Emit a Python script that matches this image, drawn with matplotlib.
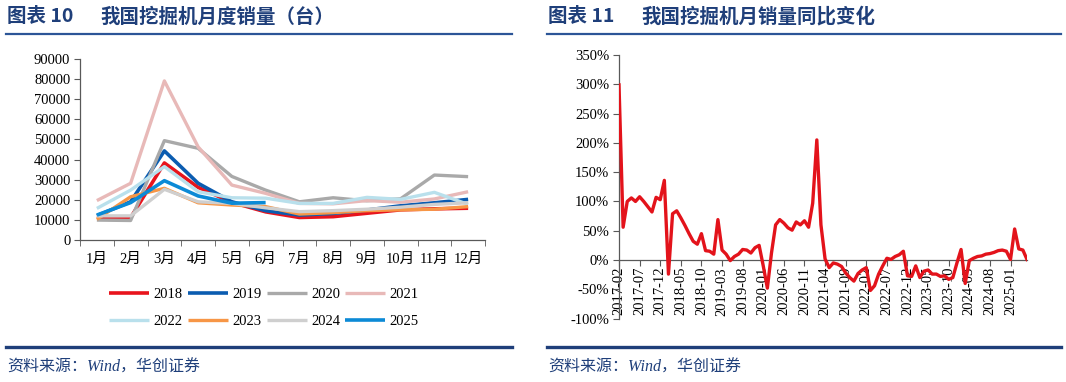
import matplotlib
matplotlib.use("Agg")
import matplotlib.pyplot as plt
from matplotlib.lines import Line2D
import pandas as pd

# ========= DATA =========
MONTHS = ["1月", "2月", "3月", "4月", "5月", "6月", "7月", "8月", "9月", "10月", "11月", "12月"]
YEARS = ["2018", "2019", "2020", "2021", "2022", "2023", "2024", "2025"]

sales_2018 = [11100, 11100, 38300, 26200, 18700, 14000, 11200, 11600, 13300, 15000, 15500, 15800]
sales_2019 = [12100, 19000, 44300, 28200, 19000, 14600, 12400, 13200, 14900, 17000, 18500, 20200]
sales_2020 = [9900, 9700, 49400, 45600, 31600, 24800, 19000, 21000, 19500, 20500, 32300, 31500]
sales_2021 = [19600, 28200, 79100, 46300, 27300, 23200, 18200, 18000, 19600, 18800, 20400, 24000]
sales_2022 = [15700, 24800, 36500, 24000, 21000, 20800, 18200, 18200, 21200, 20200, 23700, 17700]
sales_2023 = [10300, 21500, 25700, 18500, 17400, 16600, 12900, 13600, 14600, 15000, 15300, 16600]
sales_2024 = [12000, 12000, 25200, 19000, 18200, 16000, 14100, 14600, 15300, 16300, 17700, 18500]
sales_2025 = [12400, 18600, 29500, 21900, 18300, 18600]

yoy_pct = [299, 56, 100, 106, 100, 108, 100, 91, 82, 107, 103, 136,
           -24, 79, 84, 72, 59, 45, 32, 27, 45, 16, 15, 10,
           69, 17, 10, -1, 6, 10, 18, 17, 12, 21, 25, -10,
           -48, 12, 60, 69, 63, 55, 51, 65, 60, 67, 56, 97,
           205, 60, 2, -13, -5, -7, -11, -22, -30, -36, -23, -17,
           -13, -52, -44, -24, -10, 3, 1, 6, 9, 15, -27, -28,
           -10, -30, -19, -17, -24, -24, -28, -27, -33, -30, -5, 18,
           -40, -1, 3, 6, 7, 10, 11, 13, 16, 17, 15, 1,
           53, 19, 17, 1]
YOY_START = "2017-02"

# ========= STYLE =========
COLORS = ["#e8141c", "#0b5cb0", "#a9a9a9", "#e8b9b8", "#b9e0ec",
          "#f79646", "#cfcfcf", "#0c8ad6"]
NAVY = "#1f3f7a"

plt.rcParams["font.family"] = ["Liberation Serif", "Noto Sans CJK SC"]
plt.rcParams["font.size"] = 10.5
plt.rcParams["axes.linewidth"] = 0.9
plt.rcParams["axes.edgecolor"] = "#595959"


def main():
    fig = plt.figure(figsize=(10.66, 3.82), dpi=100)

    # --- left: monthly sales ---
    ax1 = fig.add_axes([80 / 1066, 1 - 240 / 382, 405 / 1066, 181 / 382])
    all_sales = [sales_2018, sales_2019, sales_2020, sales_2021,
                 sales_2022, sales_2023, sales_2024, sales_2025]
    handles = []
    for year, vals, col in zip(YEARS, all_sales, COLORS):
        lw = 2.6 if year in ("2018", "2019", "2025") else 2.4
        h, = ax1.plot(range(len(vals)), vals, color=col, lw=lw, label=year,
                      solid_capstyle="butt")
        handles.append(h)
    ax1.set_xlim(-0.5, 11.5)
    ax1.set_ylim(0, 90000)
    ax1.set_yticks(range(0, 90001, 10000))
    ax1.set_xticks(range(12))
    ax1.set_xticklabels(MONTHS)
    ax1.set_xticks([i - 0.5 for i in range(13)], minor=True)
    ax1.tick_params(axis="x", which="major", length=0, pad=9)
    ax1.tick_params(axis="x", which="minor", length=4, color="#595959")
    ax1.tick_params(axis="y", length=4, color="#595959", pad=3)
    for s in ("top", "right"):
        ax1.spines[s].set_visible(False)

    # legend filled row by row (matplotlib fills by column)
    order = [0, 4, 1, 5, 2, 6, 3, 7]
    fig.legend([handles[i] for i in order], [YEARS[i] for i in order],
               loc="center", bbox_to_anchor=(264 / 1066, 1 - 308 / 382),
               ncol=4, frameon=False, handlelength=2.75, handletextpad=0.3,
               columnspacing=0.35, labelspacing=0.95, fontsize=10.5)

    # --- right: YoY ---
    ax2 = fig.add_axes([619 / 1066, 1 - 318.6 / 382, 408 / 1066, 263.6 / 382])
    ax2.spines["bottom"].set_position(("data", 0))
    for s in ("top", "right"):
        ax2.spines[s].set_visible(False)
    labels = pd.date_range(YOY_START, periods=len(yoy_pct), freq="MS").strftime("%Y-%m")
    ax2.plot(range(len(yoy_pct)), yoy_pct, color="#e3131b", lw=2.4, zorder=3)
    ax2.set_xlim(0, len(yoy_pct) - 1)
    ax2.set_ylim(-100, 350)
    ax2.set_yticks(range(-100, 351, 50))
    ax2.set_yticklabels([f"{v}%" for v in range(-100, 351, 50)])
    ticks = list(range(0, len(yoy_pct), 5))
    ax2.set_xticks(ticks)
    ax2.set_xticklabels([labels[i] for i in ticks])
    ax2.tick_params(axis="x", length=4, pad=1, color="#595959", labelrotation=90)
    ax2.tick_params(axis="y", length=4, pad=3, color="#595959")

    # --- titles, rules, sources ---
    fig.text(7 / 1066, 1 - 17 / 382, "图表 10", fontsize=14, fontweight="bold",
             color=NAVY, va="center", family="Noto Sans CJK SC")
    fig.text(100 / 1066, 1 - 17 / 382, "我国挖掘机月度销量（台）", fontsize=14,
             fontweight="bold", color=NAVY, va="center", family="Noto Sans CJK SC")
    fig.text(548 / 1066, 1 - 17 / 382, "图表 11", fontsize=14, fontweight="bold",
             color=NAVY, va="center", family="Noto Sans CJK SC")
    fig.text(641 / 1066, 1 - 17 / 382, "我国挖掘机月销量同比变化", fontsize=14,
             fontweight="bold", color=NAVY, va="center", family="Noto Sans CJK SC")

    for x0, x1 in ((6, 512), (547, 1061)):
        fig.add_artist(Line2D([x0 / 1066, x1 / 1066], [1 - 33.5 / 382] * 2,
                              color="#2c5597", lw=1.6))
        fig.add_artist(Line2D([x0 / 1066, x1 / 1066], [1 - 347 / 382] * 2,
                              color=NAVY, lw=2.4))

    for x0 in (7, 548):
        fig.text(x0 / 1066, 1 - 368 / 382, "资料来源：Wind，华创证券", fontsize=11.5,
                 color=NAVY, va="center", style="italic",
                 family=["Liberation Serif", "Noto Sans CJK SC"])

    fig.savefig("out.png", dpi=100)


if __name__ == "__main__":
    main()
